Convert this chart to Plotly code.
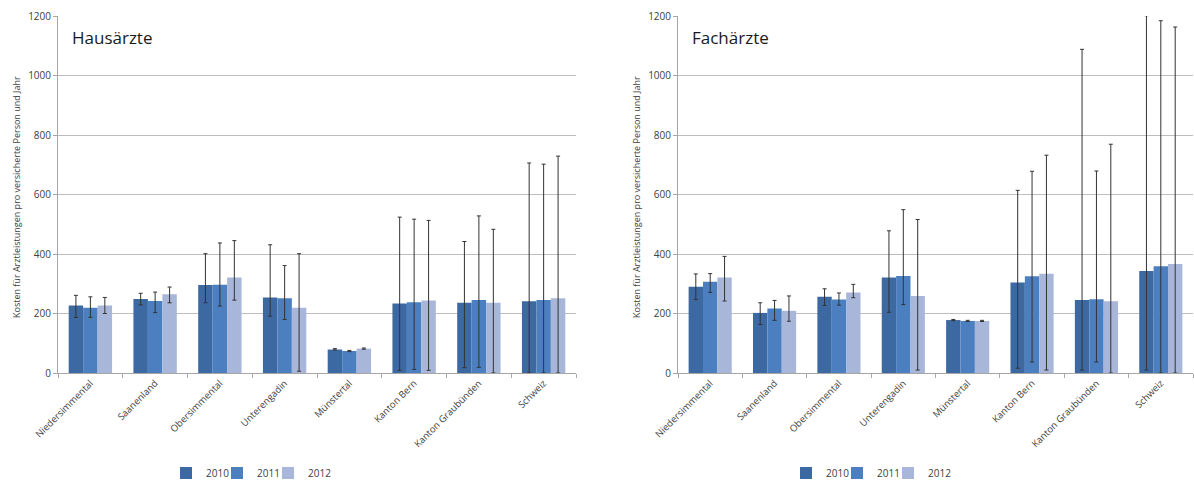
import plotly.graph_objects as go

categories = ["Niedersimmental", "Saanenland", "Obersimmental", "Unterengadin",
              "Münstertal", "Kanton Bern", "Kanton Graubünden", "Schweiz"]
years = ["2010", "2011", "2012"]

# Hausärzte: mean, upper bound, lower bound
haus_2010 = [227, 249, 296, 254, 79, 234, 236, 241]
haus_2010_hi = [261, 268, 401, 431, 82, 524, 442, 706]
haus_2010_lo = [187, 229, 236, 191, 77, 9, 18, 0]
haus_2011 = [219, 242, 297, 251, 74, 238, 245, 245]
haus_2011_hi = [256, 272, 437, 361, 76, 517, 528, 702]
haus_2011_lo = [187, 203, 225, 180, 72, 12, 19, 0]
haus_2012 = [227, 265, 321, 219, 82, 244, 236, 251]
haus_2012_hi = [254, 289, 445, 401, 84, 513, 483, 729]
haus_2012_lo = [200, 236, 245, 6, 80, 9, 0, 0]

# Fachärzte
fach_2010 = [290, 202, 256, 321, 178, 304, 245, 343]
fach_2010_hi = [333, 236, 283, 478, 180, 614, 1088, 1201]
fach_2010_lo = [247, 163, 227, 204, 176, 16, 10, 10]
fach_2011 = [307, 217, 247, 326, 175, 325, 248, 359]
fach_2011_hi = [334, 244, 269, 549, 177, 678, 679, 1184]
fach_2011_lo = [271, 177, 228, 230, 173, 37, 37, 0]
fach_2012 = [321, 209, 271, 259, 175, 334, 241, 366]
fach_2012_hi = [392, 259, 298, 516, 177, 732, 769, 1163]
fach_2012_lo = [242, 174, 253, 10, 173, 10, 0, 0]

y_ticks = [0, 200, 400, 600, 800, 1000, 1200]
y_title = "Kosten für Arztleistungen pro versicherte Person und Jahr"
colors = ["#3d69a3", "#4b7fc0", "#a8b7d9"]
FONT = "Open Sans"

fig = go.Figure()

haus = [(haus_2010, haus_2010_hi, haus_2010_lo),
        (haus_2011, haus_2011_hi, haus_2011_lo),
        (haus_2012, haus_2012_hi, haus_2012_lo)]
fach = [(fach_2010, fach_2010_hi, fach_2010_lo),
        (fach_2011, fach_2011_hi, fach_2011_lo),
        (fach_2012, fach_2012_hi, fach_2012_lo)]

entry_widths = [6, 6, 28]

for panel, (data, xa, ya, leg) in enumerate([(haus, "x", "y", "legend"),
                                              (fach, "x2", "y2", "legend2")]):
    for i, (vals, hi, lo) in enumerate(data):
        fig.add_trace(go.Bar(
            x=categories, y=vals, name=years[i],
            marker=dict(color=colors[i], line=dict(width=0)),
            error_y=dict(type="data", symmetric=False,
                         array=[h - v for h, v in zip(hi, vals)],
                         arrayminus=[v - l for v, l in zip(vals, lo)],
                         color="#333333", thickness=1, width=2),
            xaxis=xa, yaxis=ya, legend=leg, legendwidth=entry_widths[i],
        ))

axis_common_y = dict(range=[0, 1200], tickvals=y_ticks, showgrid=True,
                     gridcolor="#bdbdbd", gridwidth=1, showline=True,
                     linecolor="#a6a6a6", linewidth=1, ticks="outside",
                     ticklen=4, tickcolor="#a6a6a6", automargin=False,
                     tickfont=dict(size=10, color="#404040", family=FONT),
                     zeroline=False)
axis_common_x = dict(tickangle=-45, showline=True, linecolor="#a6a6a6",
                     linewidth=1, ticks="outside", ticklen=4,
                     tickcolor="#a6a6a6", tickson="boundaries",
                     automargin=False,
                     tickfont=dict(size=9.5, color="#404040", family=FONT),
                     showgrid=False)

W, H = 1194, 481
ml, mr, mt, mb = 58, 1, 16, 108
pw = W - ml - mr
ph = H - mt - mb

def px(xp):
    return (xp - ml) / pw

def py(yp):
    return (H - mb - yp) / ph

legend_common = dict(orientation="h", xanchor="left", yanchor="middle",
                     font=dict(size=10, color="#404040", family=FONT),
                     itemwidth=30, tracegroupgap=0, bgcolor="rgba(0,0,0,0)")

fig.update_layout(
    width=W, height=H,
    margin=dict(l=ml, r=mr, t=mt, b=mb, autoexpand=False),
    plot_bgcolor="white", paper_bgcolor="white",
    barmode="group", bargap=0.33, bargroupgap=0,
    font=dict(family=FONT, color="#404040"),
    xaxis=dict(domain=[0, px(576)], anchor="y", **axis_common_x),
    yaxis=dict(domain=[0, 1], anchor="x", **axis_common_y),
    xaxis2=dict(domain=[px(678), 1.0], anchor="y2", **axis_common_x),
    yaxis2=dict(domain=[0, 1], anchor="x2", **axis_common_y),
    legend=dict(x=px(166), y=py(473), **legend_common),
    legend2=dict(x=px(786), y=py(473), **legend_common),
    showlegend=True,
)

annotations = [
    dict(text="Hausärzte", x=px(70), y=py(37), xref="paper", yref="paper",
         xanchor="left", yanchor="middle", showarrow=False,
         font=dict(size=17, color="#1a1a1a", family=FONT)),
    dict(text="Fachärzte", x=px(690), y=py(37), xref="paper", yref="paper",
         xanchor="left", yanchor="middle", showarrow=False,
         font=dict(size=17, color="#1a1a1a", family=FONT)),
    dict(text=y_title, x=px(16), y=py(197), xref="paper", yref="paper",
         xanchor="center", yanchor="middle", textangle=-90, showarrow=False,
         font=dict(size=9, color="#404040", family=FONT)),
    dict(text=y_title, x=px(636), y=py(197), xref="paper", yref="paper",
         xanchor="center", yanchor="middle", textangle=-90, showarrow=False,
         font=dict(size=9, color="#404040", family=FONT)),
]
fig.update_layout(annotations=annotations)

fig.write_html("out.html",
               config={"displayModeBar": False},
               post_script="document.body.style.margin='0';"
                           "document.body.style.overflow='hidden';")
